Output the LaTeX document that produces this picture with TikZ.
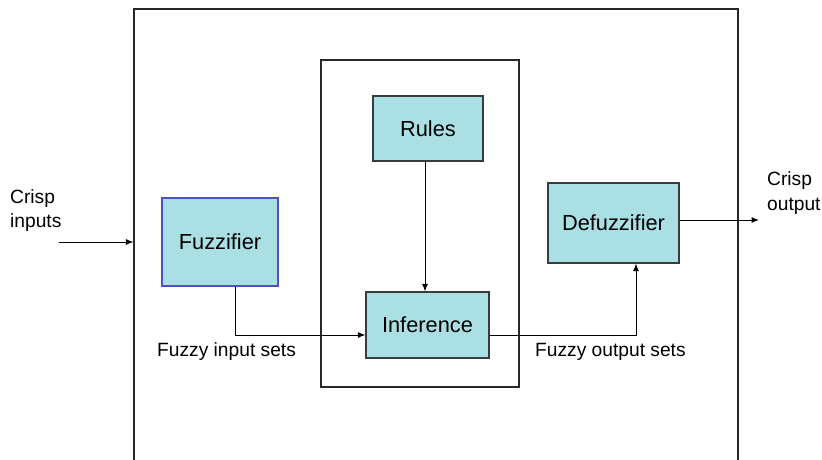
\documentclass[tikz,border=0pt]{standalone}
\usepackage{fontspec}
\setmainfont{Liberation Sans}
\usetikzlibrary{arrows.meta}
\definecolor{boxfill}{RGB}{170,223,227}
\definecolor{boxline}{RGB}{55,60,60}
\definecolor{fuzzline}{RGB}{80,80,190}
\definecolor{frameline}{RGB}{40,40,40}
\tikzset{
  block/.style={draw=boxline, fill=boxfill, line width=1.1pt, inner sep=0pt,
    font=\fontsize{21.8}{24}\selectfont},
  frame/.style={draw=frameline, line width=1.1pt, inner sep=0pt},
  lbl/.style={inner sep=0pt, align=left, font=\fontsize{19.2}{24.5}\selectfont},
  arr/.style={draw=black, line width=1pt, -{Latex[length=7.5pt,width=6pt]}},
  conn/.style={draw=black, line width=1pt}
}
\begin{document}
\begin{tikzpicture}[x=1pt,y=-1pt]
\useasboundingbox (0,0) rectangle (822,459);
\node[frame, minimum width=604pt, minimum height=460pt] (outer) at (436,239) {};
\node[frame, minimum width=198pt, minimum height=327pt] (inner) at (420,223.5) {};
\node[block, draw=fuzzline, minimum width=116pt, minimum height=88pt] (fuzz) at (220,242) {Fuzzifier};
\node[block, minimum width=110pt, minimum height=65pt] (rules) at (428,128.5) {Rules};
\node[block, minimum width=123pt, minimum height=66pt] (infer) at (427.5,325) {Inference};
\node[block, minimum width=131pt, minimum height=80pt] (defuzz) at (613.5,223) {Defuzzifier};
\coordinate (cin) at (59,242);
\coordinate (cout) at (759,220);
\draw[arr] (cin) -- (cin -| outer.west);
\draw[arr] ([xshift=-3pt]rules.south) -- ([xshift=-2.5pt]infer.north);
\draw[arr] ([xshift=15pt]fuzz.south) |- ([yshift=-10pt]infer.west);
\draw[arr] ([yshift=-10pt]infer.east) -| ([xshift=22.5pt]defuzz.south);
\draw[arr] (defuzz.east |- cout) -- (cout);
\node[lbl, anchor=west] (lin) at (10,210.5) {Crisp\\inputs};
\node[lbl, anchor=west] (lout) at (767,193) {Crisp\\output};
\node[lbl, anchor=west] (lfin) at (157,352) {Fuzzy input sets};
\node[lbl, anchor=west] (lfout) at (535,352) {Fuzzy output sets};
\end{tikzpicture}
\end{document}
